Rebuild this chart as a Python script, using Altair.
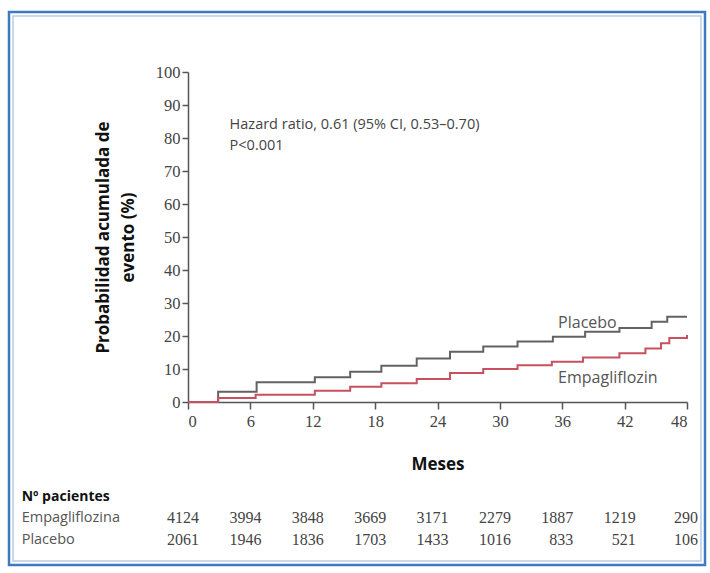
import altair as alt
import pandas as pd

# ---- data ----
placebo_months = [0, 2.9, 6.6, 12.2, 15.6, 18.6, 22.0, 25.2, 28.4, 31.7, 35.1, 38.2, 41.5, 44.6, 46.1, 48]
placebo_values = [0, 3.1, 6.0, 7.5, 9.2, 11.0, 13.2, 15.2, 16.8, 18.3, 19.8, 21.3, 22.4, 24.3, 25.8, 25.8]

empa_months = [0, 2.9, 6.5, 12.2, 15.6, 18.6, 22.0, 25.2, 28.4, 31.7, 35.0, 38.0, 41.5, 44.0, 45.5, 46.3, 48]
empa_values = [0, 1.2, 2.2, 3.4, 4.6, 5.7, 7.0, 8.8, 10.0, 11.1, 12.2, 13.5, 14.8, 16.2, 17.8, 19.4, 20.3]

risk_months = [0, 6, 12, 18, 24, 30, 36, 42, 48]
risk_empa = [4124, 3994, 3848, 3669, 3171, 2279, 1887, 1219, 290]
risk_placebo = [2061, 1946, 1836, 1703, 1433, 1016, 833, 521, 106]

x_ticks = [0, 6, 12, 18, 24, 30, 36, 42, 48]
y_ticks = [0, 10, 20, 30, 40, 50, 60, 70, 80, 90, 100]

GRAY = "#626262"
RED = "#c8505f"
SERIF = "Liberation Serif"
SANS = "Open Sans"

curves = pd.DataFrame(
    [{"mes": m, "prob": v, "grupo": "Placebo"} for m, v in zip(placebo_months, placebo_values)]
    + [{"mes": m, "prob": v, "grupo": "Empagliflozin"} for m, v in zip(empa_months, empa_values)]
)

xscale = alt.Scale(domain=[0, 48], nice=False, zero=False)
yscale = alt.Scale(domain=[0, 100], nice=False)

x_enc = alt.X(
    "mes:Q", scale=xscale,
    axis=alt.Axis(values=x_ticks, tickCount=len(x_ticks), title="Meses", titleFontSize=17,
                  titleFontWeight="bold", titleFont=SANS, titleColor="#111", titlePadding=27,
                  labelFont=SERIF, labelFontSize=16.5, labelColor="#444", labelPadding=4,
                  labelOverlap=False,
                  tickSize=7, tickColor="#555", domainColor="#555", domainWidth=1.5,
                  tickWidth=1.5, grid=False),
)
y_enc = alt.Y(
    "prob:Q", scale=yscale,
    axis=alt.Axis(values=y_ticks, tickCount=len(y_ticks), title=["Probabilidad acumulada de", "evento (%)"],
                  titleFontSize=17, titleFontWeight="bold", titleFont=SANS, titleColor="#111",
                  titlePadding=18, titleLineHeight=25,
                  labelFont=SERIF, labelFontSize=16.5, labelColor="#444", labelPadding=2,
                  labelOverlap=False,
                  tickSize=6, tickColor="#555", domainColor="#555", domainWidth=1.5,
                  tickWidth=1.5, grid=False),
)

def xq():
    return alt.X("mes:Q", scale=xscale)

def yq():
    return alt.Y("prob:Q", scale=yscale)

lines = alt.Chart(curves).mark_line(interpolate="step-after", strokeWidth=2).encode(
    x=x_enc, y=y_enc,
    color=alt.Color("grupo:N", scale=alt.Scale(domain=["Placebo", "Empagliflozin"], range=[GRAY, RED]),
                    legend=None),
)

labels = pd.DataFrame({
    "mes": [35.6, 35.6],
    "prob": [23.9, 7.3],
    "texto": ["Placebo", "Empagliflozin"],
})
label_marks = alt.Chart(labels).mark_text(align="left", baseline="middle", font=SANS, fontSize=16,
                                           color="#555").encode(x=xq(), y=yq(), text="texto:N")

notes = pd.DataFrame({
    "mes": [4.0, 4.0],
    "prob": [84.0, 77.6],
    "texto": ["Hazard ratio, 0.61 (95% CI, 0.53–0.70)", "P<0.001"],
})
note_marks = alt.Chart(notes).mark_text(align="left", baseline="middle", font=SANS, fontSize=14.5,
                                         color="#444").encode(x=xq(), y=yq(), text="texto:N")

# numbers-at-risk table (placed with the same scales, below the axis)
risk = pd.DataFrame(
    [{"mes": m, "prob": -35.2, "n": str(v)} for m, v in zip(risk_months, risk_empa)]
    + [{"mes": m, "prob": -41.8, "n": str(v)} for m, v in zip(risk_months, risk_placebo)]
)
risk_marks = alt.Chart(risk).mark_text(align="right", baseline="middle", font=SERIF, fontSize=16,
                                        color="#444", dx=11).encode(x=xq(), y=yq(), text="n:N")

rows = pd.DataFrame({
    "mes": [-16.0, -16.0, -16.0],
    "prob": [-28.8, -35.2, -41.8],
    "texto": ["Nº pacientes", "Empagliflozina", "Placebo"],
})
row_head = alt.Chart(rows.iloc[[0]]).mark_text(align="left", baseline="middle", font=SANS, fontSize=14,
                                               fontWeight="bold", color="#111").encode(
    x=xq(), y=yq(), text="texto:N")
row_names = alt.Chart(rows.iloc[1:]).mark_text(align="left", baseline="middle", font=SANS, fontSize=14.5,
                                               color="#555").encode(x=xq(), y=yq(), text="texto:N")

# decorative frame around the figure
frame_outer = alt.Chart(pd.DataFrame({"a": [0]})).mark_rect(
    fill=None, stroke="#3f79c0", strokeWidth=2.5).encode(
    x=alt.value(-179), x2=alt.value(517), y=alt.value(-60), y2=alt.value(493))
frame_inner = alt.Chart(pd.DataFrame({"a": [0]})).mark_rect(
    fill=None, stroke="#b9cde3", strokeWidth=1.5).encode(
    x=alt.value(-175), x2=alt.value(513), y=alt.value(-56), y2=alt.value(489))

chart = alt.layer(lines, frame_inner, frame_outer, label_marks, note_marks, risk_marks, row_head, row_names).properties(
    width=499, height=330,
    padding={"left": 188, "top": 72, "right": 23, "bottom": 171},
    autosize=alt.AutoSizeParams(type="none"),
).configure(background="white", view=alt.ViewConfig(stroke=None))

chart.save("out.html", embed_options={"renderer": "svg", "actions": False})
